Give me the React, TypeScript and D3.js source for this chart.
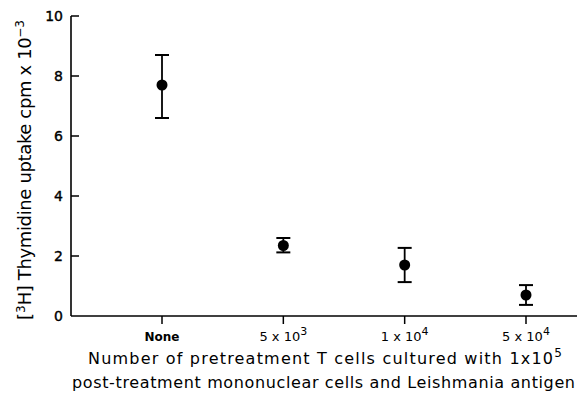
import * as d3 from 'd3';
import React, { useEffect, useRef } from 'react';

const categories = ['None', '5x10^3', '1x10^4', '5x10^4'];
const means = [7.7, 2.35, 1.7, 0.7];
const lower = [6.6, 2.12, 1.13, 0.37];
const upper = [8.7, 2.6, 2.27, 1.03];
const yTicks = [0, 2, 4, 6, 8, 10];

const FONT = '"DejaVu Sans", sans-serif';

export default function App() {
    const ref = useRef<SVGSVGElement>(null);

    useEffect(() => {
        const svg = d3.select(ref.current);
        svg.selectAll('*').remove();

        const x = d3.scalePoint<string>()
            .domain(categories)
            .range([162, 526]);

        const y = d3.scaleLinear()
            .domain([0, 10])
            .range([316, 16]);

        const g = svg.append('g');

        // axes
        g.append('line')
            .attr('x1', 71).attr('x2', 577)
            .attr('y1', y(0)).attr('y2', y(0))
            .style('stroke', '#000').style('stroke-width', 1.6);
        g.append('line')
            .attr('x1', 71).attr('x2', 71)
            .attr('y1', y(0)).attr('y2', y(10))
            .style('stroke', '#000').style('stroke-width', 1.6);

        yTicks.forEach(t => {
            if (t > 0) {
                g.append('line')
                    .attr('x1', 71).attr('x2', 79)
                    .attr('y1', y(t)).attr('y2', y(t))
                    .style('stroke', '#000').style('stroke-width', 1.5);
            }
            g.append('text')
                .attr('x', 63).attr('y', y(t) + 5)
                .attr('text-anchor', 'end')
                .style('font-family', FONT).style('font-size', '14px')
                .style('stroke', '#000').style('stroke-width', 0.4)
                .text(t);
        });

        categories.forEach(c => {
            g.append('line')
                .attr('x1', x(c)).attr('x2', x(c))
                .attr('y1', y(0)).attr('y2', y(0) + 8)
                .style('stroke', '#000').style('stroke-width', 1.5);
            const label = g.append('text')
                .attr('x', x(c)).attr('y', 341)
                .attr('text-anchor', 'middle')
                .style('font-family', FONT).style('font-size', '13px');
            if (c === 'None') {
                label.style('font-weight', 'bold').style('font-size', '12px').text('None');
            } else {
                const [m, e] = c.split('^');
                label.append('tspan').text(m.replace('x', ' x '));
                label.append('tspan').attr('dy', -6).style('font-size', '11px').text(e);
            }
        });

        // error bars + points
        categories.forEach((c, i) => {
            const cx = x(c) as number;
            g.append('line')
                .attr('x1', cx).attr('x2', cx)
                .attr('y1', y(lower[i])).attr('y2', y(upper[i]))
                .style('stroke', '#000').style('stroke-width', 1.8);
            [lower[i], upper[i]].forEach(v => {
                g.append('line')
                    .attr('x1', cx - 7).attr('x2', cx + 7)
                    .attr('y1', y(v)).attr('y2', y(v))
                    .style('stroke', '#000').style('stroke-width', 2);
            });
            g.append('circle')
                .attr('cx', cx).attr('cy', y(means[i]))
                .attr('r', 5.5)
                .style('fill', '#000');
        });

        // x title
        const t1 = g.append('text')
            .attr('x', 88).attr('y', 364)
            .style('font-family', FONT).style('font-size', '16px');
        t1.append('tspan')
            .attr('textLength', 465)
            .text('Number of pretreatment T cells cultured with 1x10');
        t1.append('tspan').attr('dy', -7).style('font-size', '12px').text('5');
        g.append('text')
            .attr('x', 72).attr('y', 388)
            .attr('textLength', 503)
            .style('font-family', FONT).style('font-size', '16px')
            .text('post-treatment mononuclear cells and Leishmania antigen');

        // y title
        const yt = g.append('text')
            .attr('transform', `translate(31, 320) rotate(-90)`)
            .style('font-family', FONT).style('font-size', '18px');
        yt.append('tspan').text('[');
        yt.append('tspan').attr('dy', -6).style('font-size', '12px').text('3');
        yt.append('tspan').attr('dy', 6).attr('textLength', 268)
            .text('H] Thymidine uptake cpm x 10');
        yt.append('tspan').attr('dy', -7).style('font-size', '12px').text('−3');
    }, []);

    return (
        <svg ref={ref} width={577} height={403}
            style={{ position: 'absolute', left: 0, top: 0, background: '#fff' }} />
    );
}
